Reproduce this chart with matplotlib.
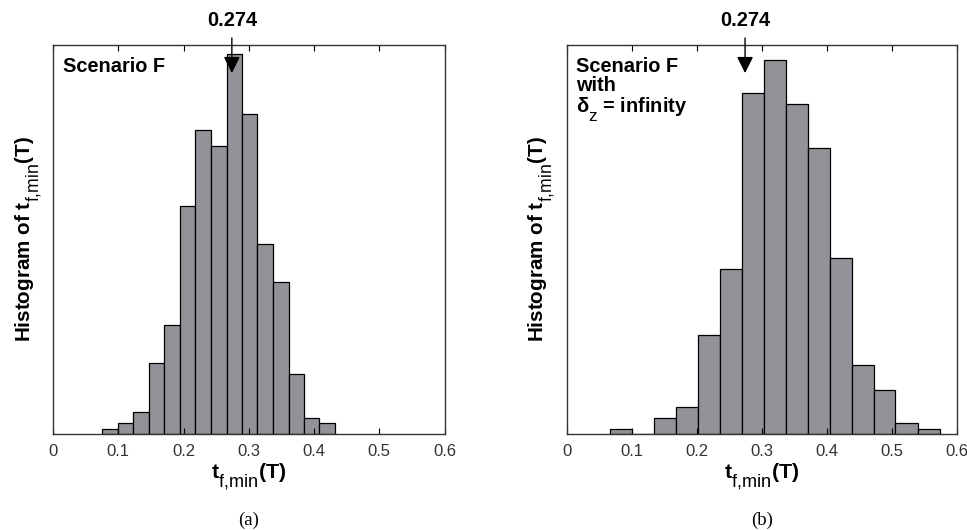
import matplotlib
matplotlib.use("Agg")
import numpy as np
import matplotlib.pyplot as plt
import matplotlib._mathtext as mt

plt.rcParams['font.family'] = ['Liberation Sans', 'DejaVu Sans']
plt.rcParams['mathtext.fontset'] = 'custom'
plt.rcParams['mathtext.rm'] = 'Liberation Sans'
plt.rcParams['mathtext.bf'] = 'Liberation Sans:bold'
plt.rcParams['mathtext.it'] = 'Liberation Sans:bold'
# larger, lower subscripts, closer to the MATLAB look
mt.SHRINK_FACTOR = 0.85
mt.FontConstantsBase.sub1 = 0.9

# histogram of t_f,min for scenario F
edges_a = [0.075, 0.099, 0.123, 0.147, 0.170, 0.194, 0.218, 0.242,
           0.266, 0.289, 0.313, 0.337, 0.361, 0.385, 0.408, 0.432]
counts_a = [1, 2, 4, 13, 20, 42, 56, 53, 70, 59, 35, 28, 11, 3, 2]

# same, with delta_z = infinity
edges_b = [0.067, 0.100, 0.134, 0.168, 0.202, 0.235, 0.269, 0.303,
           0.337, 0.370, 0.404, 0.438, 0.472, 0.505, 0.539, 0.573]
counts_b = [1, 0, 3, 5, 18, 30, 62, 68, 60, 52, 32, 12.5, 8, 2, 1]

ymax_a = 71.6
ymax_b = 70.7
t_ref = 0.274
xticks = [0, 0.1, 0.2, 0.3, 0.4, 0.5, 0.6]

bar_color = '#929398'
fs = 14.4
tmin = r'$\mathbf{t}_{\mathrm{f{,}min}}$'

fig = plt.figure(figsize=(9.67, 5.30), dpi=100)
ax_a = fig.add_axes([0.0548, 0.181, 0.405, 0.734])
ax_b = fig.add_axes([0.586, 0.181, 0.404, 0.734])


def draw_hist(ax, edges, counts, ymax, note, caption):
    e = np.array(edges)
    ax.bar(e[:-1], counts, width=np.diff(e), align='edge',
           color=bar_color, edgecolor='k', linewidth=0.9)
    ax.set_xlim(0, 0.6)
    ax.set_ylim(0, ymax)
    ax.set_xticks(xticks)
    ax.set_xticklabels([f'{t:g}' for t in xticks], fontsize=12, color='#333333')
    ax.set_yticks([])
    ax.tick_params(axis='x', direction='in', top=True, length=4, width=0.8, pad=7)
    for s in ax.spines.values():
        s.set_linewidth(1.0)
        s.set_color('#333333')

    ax.set_xlabel(tmin + '(T)', fontsize=fs + 1, fontweight='bold', labelpad=2)
    ax.set_ylabel('Histogram of ' + tmin + '(T)', fontsize=fs + 0.5,
                  fontweight='bold', labelpad=6)

    ax.text(0.025, 0.97, note, transform=ax.transAxes, ha='left', va='top',
            fontsize=fs, fontweight='bold', linespacing=1.0)

    ax.annotate('0.274', xy=(t_ref, 0.928), xycoords=('data', 'axes fraction'),
                xytext=(t_ref, 1.064), textcoords=('data', 'axes fraction'),
                ha='center', va='center', fontsize=fs, fontweight='bold',
                arrowprops=dict(arrowstyle='-|>,head_length=0.5,head_width=0.25',
                                color='k', lw=1.0, mutation_scale=20,
                                shrinkA=4, shrinkB=0))

    ax.text(0.5, -0.222, caption, transform=ax.transAxes, ha='center', va='center',
            fontsize=13.5, family='Liberation Serif')


draw_hist(ax_a, edges_a, counts_a, ymax_a, 'Scenario F', '(a)')
draw_hist(ax_b, edges_b, counts_b, ymax_b,
          'Scenario F\nwith\n' + r'$\delta_{\mathrm{z}}$ = infinity', '(b)')

fig.savefig('out.png', dpi=100)
